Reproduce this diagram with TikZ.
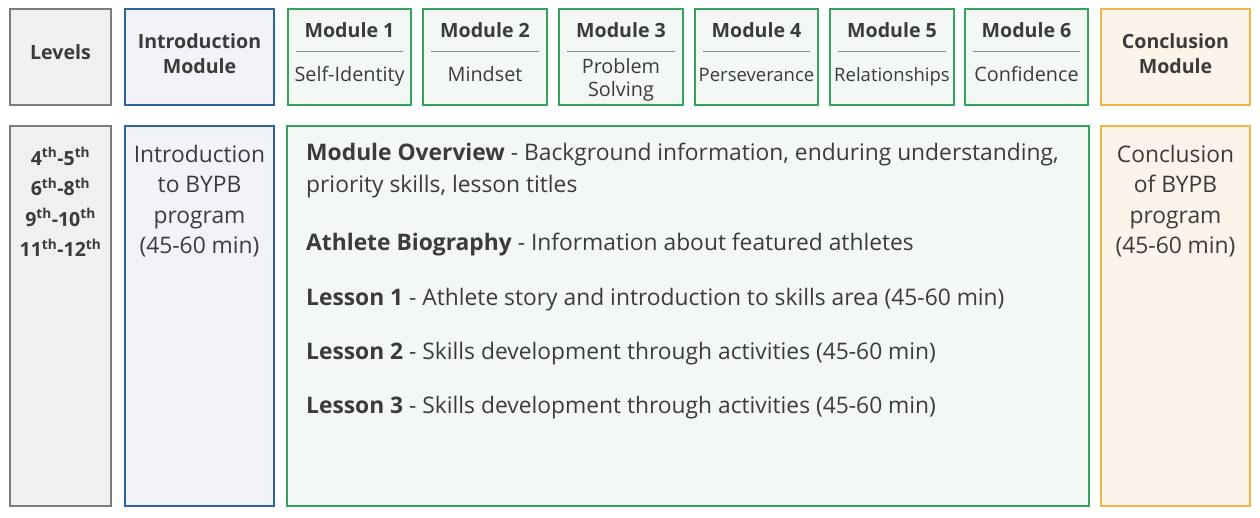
\documentclass[tikz,border=0pt]{standalone}
\usepackage{fontspec}
\setmainfont{Open Sans}
\usepackage{xcolor}
\usepackage{tikz}

\definecolor{txtcol}{HTML}{3B3B3B}
\definecolor{lvldraw}{HTML}{7C7C7C}
\definecolor{lvlfill}{HTML}{F0F0F0}
\definecolor{introdraw}{HTML}{2C63A8}
\definecolor{introfill}{HTML}{F2F3F8}
\definecolor{moddraw}{HTML}{34A35B}
\definecolor{modfill}{HTML}{F3F8F4}
\definecolor{concdraw}{HTML}{F4B446}
\definecolor{concfill}{HTML}{FCF3EA}
\definecolor{rulecol}{HTML}{8C8C8C}

\begin{document}
\begin{tikzpicture}[x=1pt,y=-1pt,
		box/.style={shape=rectangle,draw,line width=2pt,inner sep=0pt},
		lvlbox/.style={box,draw=lvldraw,fill=lvlfill,minimum width=101pt},
		introbox/.style={box,draw=introdraw,fill=introfill,minimum width=149pt},
		modbox/.style={box,draw=moddraw,fill=modfill},
		concbox/.style={box,draw=concdraw,fill=concfill,minimum width=149pt},
		toprow/.style={minimum height=96pt},
		botrow/.style={minimum height=380pt},
		headtext/.style={text=txtcol,align=center,font=\fontsize{19.6}{25}\selectfont\bfseries},
		subtext/.style={text=txtcol,align=center,anchor=base,font=\fontsize{19.8}{23}\selectfont},
		bodytext/.style={text=txtcol,align=left,anchor=west,inner sep=0pt,font=\fontsize{22.8}{32}\selectfont},
		sidetext/.style={text=txtcol,align=center,font=\fontsize{22.8}{30.5}\selectfont},
		modrule/.style={draw=rulecol,line width=0.8pt}]
			\useasboundingbox (0,0) rectangle (1260,517);

			%% header row
			\node[lvlbox,toprow] (lvlhead) at (60.5,57) {};
			\node[introbox,toprow] (introhead) at (199.5,57) {};
			\node[modbox,toprow,minimum width=123pt] (m1) at (349.5,57) {};
			\node[modbox,toprow,minimum width=124pt] (m2) at (485,57) {};
			\node[modbox,toprow,minimum width=124pt] (m3) at (621,57) {};
			\node[modbox,toprow,minimum width=123pt] (m4) at (756.5,57) {};
			\node[modbox,toprow,minimum width=124pt] (m5) at (892,57) {};
			\node[modbox,toprow,minimum width=123pt] (m6) at (1026.5,57) {};
			\node[concbox,toprow] (conchead) at (1175.5,57) {};

			\node[headtext] (lvllabel) at (60.5,52.5) {Levels};
			\node[headtext] (introlabel) at (199.5,54) {Introduction\\Module};
			\node[headtext] (conclabel) at (1175.5,54) {Conclusion\\Module};

			\node[headtext] (m1title) at (349.5,30.5) {Module 1};
			\node[headtext] (m2title) at (485,30.5) {Module 2};
			\node[headtext] (m3title) at (621,30.5) {Module 3};
			\node[headtext] (m4title) at (756.5,30.5) {Module 4};
			\node[headtext] (m5title) at (892,30.5) {Module 5};
			\node[headtext] (m6title) at (1026.5,30.5) {Module 6};

			\node[subtext] (m1sub) at (349.5,81) {Self-Identity};
			\node[subtext] (m2sub) at (485,81) {Mindset};
			\node[subtext,anchor=center] (m3sub) at (621,80) {Problem\\Solving};
			\node[subtext,font=\fontsize{18.5}{23}\selectfont] (m4sub) at (756.5,81) {Perseverance};
			\node[subtext,font=\fontsize{18.5}{23}\selectfont] (m5sub) at (892,81) {Relationships};
			\node[subtext] (m6sub) at (1026.5,81) {Confidence};

			%% rules under the module titles
			\draw[modrule] ([xshift=9pt]m1.west |- 0,51) -- ([xshift=-9pt]m1.east |- 0,51);
			\draw[modrule] ([xshift=9pt]m2.west |- 0,51) -- ([xshift=-9pt]m2.east |- 0,51);
			\draw[modrule] ([xshift=9pt]m3.west |- 0,51) -- ([xshift=-9pt]m3.east |- 0,51);
			\draw[modrule] ([xshift=9pt]m4.west |- 0,51) -- ([xshift=-9pt]m4.east |- 0,51);
			\draw[modrule] ([xshift=9pt]m5.west |- 0,51) -- ([xshift=-9pt]m5.east |- 0,51);
			\draw[modrule] ([xshift=9pt]m6.west |- 0,51) -- ([xshift=-9pt]m6.east |- 0,51);

			%% content row
			\node[lvlbox,botrow] (lvlbody) at (60.5,316) {};
			\node[introbox,botrow] (introbody) at (199.5,316) {};
			\node[modbox,botrow,minimum width=802pt] (modbody) at (688,316) {};
			\node[concbox,botrow] (concbody) at (1175.5,316) {};

			\node[headtext,font=\fontsize{19.5}{30.5}\selectfont\bfseries] (lvltext) at (60.5,202)
				{4\textsuperscript{th}-5\textsuperscript{th}\\6\textsuperscript{th}-8\textsuperscript{th}\\9\textsuperscript{th}-10\textsuperscript{th}\\11\textsuperscript{th}-12\textsuperscript{th}};
			\node[sidetext] (introtext) at (199.5,201) {Introduction\\to BYPB\\program\\(45-60 min)};
			\node[sidetext] (conctext) at (1175.5,201) {Conclusion\\of BYPB\\program\\(45-60 min)};

			\node[bodytext] (overview) at (306,171) {\textbf{Module Overview} - Background information, enduring understanding,\\priority skills, lesson titles};
			\node[bodytext] (bio) at (306,245) {\textbf{Athlete Biography} - Information about featured athletes};
			\node[bodytext] (lesson1) at (306,300) {\textbf{Lesson 1} - Athlete story and introduction to skills area (45-60 min)};
			\node[bodytext] (lesson2) at (306,354) {\textbf{Lesson 2} - Skills development through activities (45-60 min)};
			\node[bodytext] (lesson3) at (306,408) {\textbf{Lesson 3} - Skills development through activities (45-60 min)};
		\end{tikzpicture}
\end{document}
